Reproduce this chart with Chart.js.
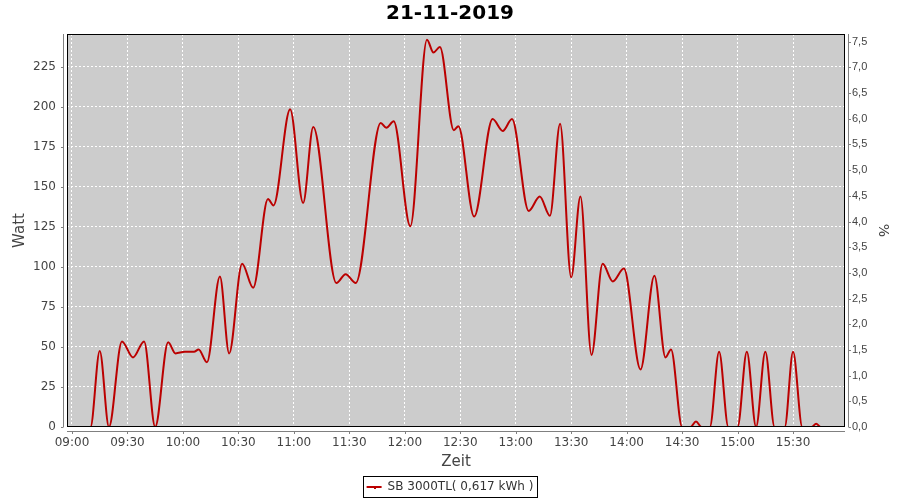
<!DOCTYPE html>
<html>
<head>
<meta charset="utf-8">
<style>
  html, body { margin: 0; padding: 0; background: #fff; }
  #wrap { width: 900px; height: 500px; }
</style>
<script src="https://cdn.jsdelivr.net/npm/chart.js@4.4.1/dist/chart.umd.min.js"></script>
</head>
<body>
<div id="wrap"><canvas id="chart" width="900" height="500"></canvas></div>
<script>
const titel = '21-11-2019';
const serieName = 'SB 3000TL( 0,617 kWh )';

const zeiten = [
    '09:04', '09:10', '09:15', '09:20', '09:27', '09:33', '09:39', '09:45', '09:52', '09:56',
    '10:01', '10:06', '10:08:30', '10:13', '10:20', '10:25', '10:32', '10:38', '10:46', '10:49',
    '10:58', '11:05', '11:10:30', '11:23', '11:28', '11:33:30', '11:47', '11:50', '11:54', '12:03',
    '12:12', '12:15:30', '12:19', '12:26:30', '12:29', '12:37:30', '12:47:30', '12:53', '12:58', '13:07',
    '13:13', '13:18:30', '13:24', '13:30', '13:35', '13:41', '13:47', '13:52:30', '13:58:30', '14:07:30',
    '14:15', '14:21', '14:24', '14:30', '14:34:30', '14:37:30', '14:40:30', '14:45', '14:50', '14:55',
    '15:00', '15:05', '15:10', '15:15', '15:20', '15:25:30', '15:30', '15:35', '15:40', '15:42:30',
    '15:45', '15:49:30'
];
const watt = [
    0, 0, 47.5, 0, 53.5, 43.5, 53.5, 0, 53, 46,
    47, 47, 48.5, 40.5, 94, 46, 102, 87, 142.5, 138.5,
    198.5, 140, 187.5, 90, 95.5, 90, 190, 187, 191, 125.5,
    242, 234, 237.5, 185.5, 188, 131.5, 192.5, 185, 192.5, 135,
    144, 132, 189.5, 93.5, 144, 45, 102, 91, 99, 36,
    94.5, 43.5, 48.5, 0, 0, 3.5, 0, 0, 47, 0,
    0, 47, 0, 47, 0, 0, 47, 0, 0, 2,
    0, 0
];

const zeitTicks = ['09:00', '09:30', '10:00', '10:30', '11:00', '11:30', '12:00',
    '12:30', '13:00', '13:30', '14:00', '14:30', '15:00', '15:30'];
const wattTicks = [0, 25, 50, 75, 100, 125, 150, 175, 200, 225];
const prozentTicks = [0, 0.5, 1, 1.5, 2, 2.5, 3, 3.5, 4, 4.5, 5, 5.5, 6, 6.5, 7, 7.5];

const zeitVon = '08:57:18';
const zeitBis = '15:58:06';
const wattMax = 245.6;
const prozentMax = 7.65;

function minuten(s) {
    const p = s.split(':').map(Number);
    return p[0] * 60 + p[1] + (p[2] || 0) / 60;
}

function zeitText(v) {
    const h = Math.floor(v / 60);
    const m = Math.round(v - h * 60);
    return String(h).padStart(2, '0') + ':' + String(m).padStart(2, '0');
}

// plot background, outline, offset axis lines and legend frame
const plotRahmen = {
    id: 'plotRahmen',
    beforeDraw(chart) {
        const { ctx, chartArea: a } = chart;
        ctx.save();
        ctx.fillStyle = '#ffffff';
        ctx.fillRect(0, 0, chart.width, chart.height);
        ctx.fillStyle = '#cccccc';
        ctx.fillRect(a.left, a.top, a.right - a.left, a.bottom - a.top);
        ctx.restore();
    },
    afterDraw(chart) {
        const { ctx, chartArea: a, scales } = chart;
        ctx.save();
        ctx.lineWidth = 1;
        ctx.strokeStyle = '#000000';
        ctx.strokeRect(a.left + 0.5, a.top + 0.5, a.right - a.left - 1, a.bottom - a.top - 1);

        ctx.strokeStyle = '#808080';
        const lx = a.left - 3.5, rx = a.right + 3.5, by = a.bottom + 4.5;
        ctx.beginPath();
        ctx.moveTo(lx, a.top); ctx.lineTo(lx, a.bottom);
        ctx.moveTo(rx, a.top); ctx.lineTo(rx, a.bottom);
        ctx.moveTo(a.left, by); ctx.lineTo(a.right, by);
        scales.y.ticks.forEach(function(t) {
            const py = Math.round(scales.y.getPixelForValue(t.value)) + 0.5;
            ctx.moveTo(lx - 2.5, py); ctx.lineTo(lx, py);
        });
        scales.y1.ticks.forEach(function(t) {
            const py = Math.round(scales.y1.getPixelForValue(t.value)) + 0.5;
            ctx.moveTo(rx, py); ctx.lineTo(rx + 2.5, py);
        });
        scales.x.ticks.forEach(function(t) {
            const px = Math.round(scales.x.getPixelForValue(t.value)) + 0.5;
            ctx.moveTo(px, by); ctx.lineTo(px, by + 2.5);
        });
        ctx.stroke();

        const hb = chart.legend.legendHitBoxes[0];
        if (hb) {
            ctx.strokeStyle = '#000000';
            ctx.strokeRect(Math.round(hb.left - 4) + 0.5, Math.round(hb.top - 5) + 0.5,
                Math.round(hb.width + 7), Math.round(hb.height + 9));
            // small marker in the middle of the legend line
            ctx.fillStyle = '#bb0000';
            ctx.fillRect(Math.round(hb.left + 7), Math.round(hb.top + hb.height / 2), 2, 2);
        }
        ctx.restore();
    }
};

const tickFarbe = '#444444';

new Chart(document.getElementById('chart'), {
    type: 'line',
    data: {
        datasets: [{
            label: serieName,
            data: zeiten.map(function(z, i) { return { x: minuten(z), y: watt[i] }; }),
            borderColor: '#bb0000',
            backgroundColor: '#bb0000',
            borderWidth: 2,
            pointRadius: 0,
            cubicInterpolationMode: 'monotone',
            clip: 0,
            yAxisID: 'y'
        }]
    },
    options: {
        responsive: false,
        animation: false,
        devicePixelRatio: 1,
        layout: { padding: { left: 0, right: 0, top: 0, bottom: -3 } },
        font: { family: 'DejaVu Sans' },
        plugins: {
            tooltip: { enabled: false },
            title: {
                display: true,
                text: titel,
                color: '#000000',
                font: { family: 'DejaVu Sans', size: 20, weight: 'bold' },
                padding: { top: 2, bottom: 8 }
            },
            legend: {
                position: 'bottom',
                labels: {
                    color: '#333333',
                    font: { family: 'DejaVu Sans', size: 12 },
                    boxWidth: 15,
                    boxHeight: 2,
                    padding: 10,
                    generateLabels: function(chart) {
                        const items = Chart.defaults.plugins.legend.labels.generateLabels(chart);
                        items.forEach(function(it) { it.lineWidth = 0; });
                        return items;
                    }
                }
            }
        },
        scales: {
            x: {
                type: 'linear',
                min: minuten(zeitVon),
                max: minuten(zeitBis),
                afterBuildTicks: function(scale) {
                    scale.ticks = zeitTicks.map(function(z) { return { value: minuten(z) }; });
                },
                afterFit: function(scale) {
                    scale.height = 503 - scale.chart.legend.height - 427;
                },
                ticks: {
                    callback: function(v) { return zeitText(v); },
                    color: tickFarbe,
                    font: { family: 'DejaVu Sans', size: 12 },
                    maxRotation: 0,
                    autoSkip: false,
                    padding: 9
                },
                grid: { color: '#ffffff', lineWidth: 1, drawTicks: false },
                border: { display: false, dash: [2, 2] },
                title: {
                    display: true,
                    text: 'Zeit',
                    color: tickFarbe,
                    font: { family: 'DejaVu Sans', size: 15 },
                    padding: { top: 0, bottom: 0 }
                }
            },
            y: {
                position: 'left',
                min: 0,
                max: wattMax,
                afterBuildTicks: function(scale) {
                    scale.ticks = wattTicks.map(function(v) { return { value: v }; });
                },
                afterFit: function(scale) { scale.width = 67; },
                ticks: {
                    color: tickFarbe,
                    font: { family: 'DejaVu Sans', size: 12 },
                    autoSkip: false,
                    padding: 11
                },
                grid: { color: '#ffffff', lineWidth: 1, drawTicks: false },
                border: { display: false, dash: [2, 2] },
                title: {
                    display: true,
                    text: 'Watt',
                    color: tickFarbe,
                    font: { family: 'DejaVu Sans', size: 15 },
                    padding: { top: 11, bottom: 0 }
                }
            },
            y1: {
                position: 'right',
                min: 0,
                max: prozentMax,
                afterBuildTicks: function(scale) {
                    scale.ticks = prozentTicks.map(function(v) { return { value: v }; });
                },
                afterFit: function(scale) { scale.width = 55; },
                ticks: {
                    callback: function(v) { return v.toFixed(1).replace('.', ','); },
                    color: tickFarbe,
                    font: { family: 'Liberation Sans', size: 11 },
                    autoSkip: false,
                    padding: 7
                },
                grid: { display: false, drawTicks: false },
                border: { display: false },
                title: {
                    display: true,
                    text: '%',
                    color: tickFarbe,
                    font: { family: 'DejaVu Sans', size: 14 },
                    padding: { top: 9, bottom: 0 }
                }
            }
        }
    },
    plugins: [plotRahmen]
});
</script>
</body>
</html>
